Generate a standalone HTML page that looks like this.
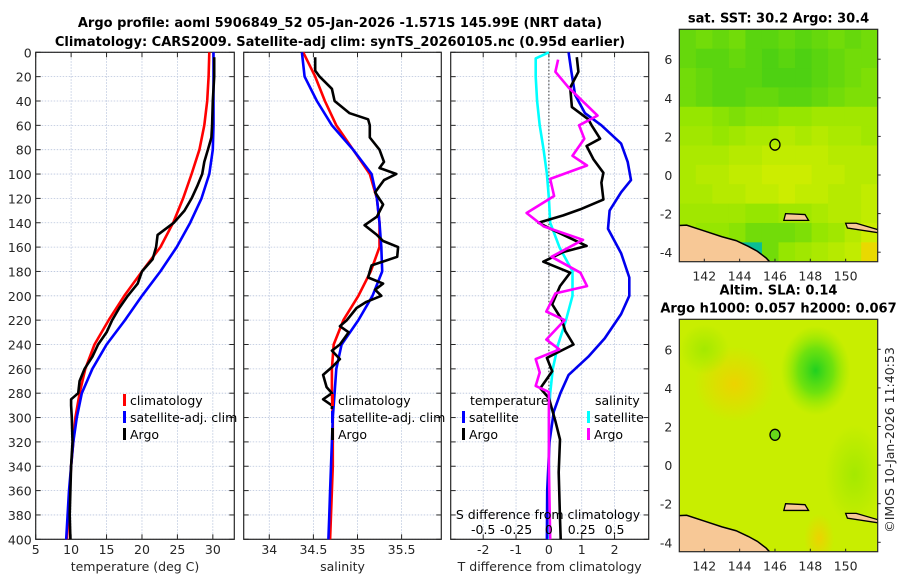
<!DOCTYPE html>
<html><head><meta charset="utf-8">
<style>
body{margin:0;background:#fff;}
svg{display:block;font-family:"DejaVu Sans","Liberation Sans",sans-serif;}
.tk{font-size:12.5px;fill:#262626;}
.ttl{font-size:13px;font-weight:bold;fill:#000;}
.lg{font-size:12.5px;fill:#000;}
</style></head>
<body>
<svg id="svg" width="900" height="580" viewBox="0 0 900 580">
<rect width="900" height="580" fill="#fff"/>
<g id="g1"></g>
<g id="g2"></g>
<g id="g3"></g>
<g id="m1"></g>
<g id="m2"></g>
<text class="ttl" x="340" y="27" text-anchor="middle">Argo profile: aoml 5906849_52 05-Jan-2026 -1.571S 145.99E (NRT data)</text>
<text class="ttl" x="340" y="46" text-anchor="middle">Climatology: CARS2009. Satellite-adj clim: synTS_20260105.nc (0.95d earlier)</text>
<text class="tk" transform="translate(894,440) rotate(-90)" text-anchor="middle">©IMOS 10-Jan-2026 11:40:53</text>
</svg>
<script>
// ---- data ----
const depthTicks=[0,20,40,60,80,100,120,140,160,180,200,220,240,260,280,300,320,340,360,380,400];
const tempTicks=[5,10,15,20,25,30];
const salTicks=[34,34.5,35,35.5];
const tdTicks=[-2,-1,0,1,2];
const sdTicks=[-0.5,-0.25,0,0.25,0.5];
const stdDepths=[0,20,40,60,80,100,120,140,160,180,200,220,240,260,280,300,320,340,360,380,400];
const tempClim=[29.5,29.4,29.2,28.8,28.1,27.0,25.8,24.4,22.6,20.0,17.5,15.3,13.3,12.0,11.2,10.6,10.3,10.0,9.8,9.6,9.4];
const tempSat=[30.1,30.1,30.1,30.1,30.0,29.5,28.4,26.8,24.9,22.6,20.0,17.6,15.0,13.0,11.5,10.8,10.3,10.0,9.7,9.5,9.3];
const salClim=[34.385,34.52,34.63,34.76,34.95,35.14,35.22,35.25,35.25,35.15,35.01,34.84,34.73,34.71,34.71,34.72,34.72,34.72,34.71,34.70,34.69];
const salSat=[34.37,34.40,34.54,34.71,34.95,35.16,35.22,35.25,35.27,35.28,35.17,35.01,34.82,34.76,34.74,34.72,34.71,34.70,34.69,34.68,34.67];
const argoTDepth=[4,20,40,60,70,80,90,100,110,120,130,140,150,160,170,180,190,200,210,220,230,240,250,260,270,280,285,290,300,320,340,360,380,400];
const argoTemp=[30.2,30.2,30.0,29.9,29.8,29.3,28.8,28.5,27.8,27.0,26.0,24.5,22.2,22.0,21.5,20.0,19.4,18.0,16.8,15.8,15.0,13.8,13.0,11.9,11.2,11.0,10.0,10.0,10.1,10.2,10.0,9.9,9.8,9.9];
const argoSDepth=[4,15,20,30,40,50,55,60,70,80,90,95,100,105,115,125,135,142,150,155,160,168,175,180,185,190,195,200,205,210,220,225,230,240,245,252,258,265,275,280,285,290,293];
const argoSal=[34.52,34.52,34.57,34.71,34.74,34.91,35.12,35.14,35.14,35.25,35.30,35.25,35.44,35.30,35.20,35.29,35.22,35.08,35.22,35.29,35.46,35.45,35.16,35.14,35.12,35.29,35.20,35.27,35.10,34.99,34.88,34.80,34.90,34.80,34.71,34.80,34.72,34.61,34.65,34.71,34.61,34.71,34.71];
const satTdDepth=[0,15,35,50,60,75,90,105,115,130,145,165,185,200,215,235,250,265,280,295,320,360,400];
const satTd=[0.6,0.68,0.8,1.1,1.6,2.2,2.4,2.5,2.2,1.85,1.8,2.2,2.45,2.45,2.2,1.7,1.2,0.6,0.35,0.15,0.02,-0.05,-0.06];
const argoTdDepth=[4,16,29,45,55,60,71,77,88,99,107,121,129,134,140,145,159,164,172,181,192,207,220,229,240,251,262,276,284,303,318,345,383,400];
const argoTd=[0.85,0.9,0.65,0.7,1.2,1.3,1.56,1.15,1.36,1.66,1.6,1.66,0.95,0.44,-0.32,0.05,1.15,0.44,-0.17,0.65,0.34,0.1,0.4,0.5,0.75,-0.06,0.1,-0.26,0.0,0.2,0.34,0.3,0.34,0.36];
const satSdDepth=[0,5,20,40,60,80,100,120,140,160,180,200,220,240,260,280,300,400];
const satSd=[0,-0.1,-0.1,-0.09,-0.07,-0.04,-0.015,0,0.01,0.08,0.18,0.18,0.13,0.07,0.03,0.01,0,0];
const argoSdDepth=[6,16,29,52,60,71,85,93,104,118,132,143,154,168,181,192,198,213,220,236,244,252,263,274,279,300,340,400];
const argoSd=[0.07,0.05,0.15,0.37,0.23,0.27,0.18,0.29,0.01,0.04,-0.17,-0.04,0.26,0.02,0.24,0.29,0.05,-0.02,0.12,-0.02,0.08,-0.1,-0.07,-0.1,0.0,0.0,0.0,0.01];
const mapLonTicks=[142,144,146,148,150];
const mapLatTicks=[-4,-2,0,2,4,6];
const sstGrid=[
[0.3,0.35,0.3,0.35,0.25,0.25,0.3,0.25,0.3,0.35,0.3,0.35],
[0.3,0.25,0.25,0.3,0.25,0.2,0.25,0.2,0.25,0.3,0.35,0.35],
[0.35,0.3,0.25,0.25,0.25,0.2,0.2,0.2,0.25,0.3,0.35,0.4],
[0.35,0.3,0.25,0.25,0.3,0.3,0.25,0.25,0.3,0.35,0.4,0.4],
[0.5,0.5,0.45,0.4,0.45,0.45,0.5,0.5,0.55,0.55,0.55,0.55],
[0.55,0.55,0.5,0.55,0.6,0.6,0.65,0.6,0.65,0.6,0.6,0.55],
[0.6,0.6,0.6,0.65,0.65,0.7,0.7,0.7,0.7,0.65,0.65,0.65],
[0.6,0.65,0.65,0.7,0.7,0.75,0.75,0.75,0.7,0.7,0.65,0.65],
[0.6,0.6,0.65,0.65,0.7,0.7,0.75,0.7,0.7,0.65,0.65,0.7],
[0.55,0.55,0.55,0.55,0.5,0.5,0.55,0.55,0.6,0.65,0.65,0.7],
[0.55,0.5,0.5,0.45,0.35,0.35,0.35,0.4,0.5,0.55,0.65,0.75],
[0.55,0.5,0.25,-0.2,-0.2,0.35,0.5,0.55,0.6,0.65,0.7,0.9]];
const argoLon=146.0, argoLat=1.57;

// ---- helpers ----
const NS="http://www.w3.org/2000/svg";
function mk(parent,tag,attrs){const e=document.createElementNS(NS,tag);for(const k in attrs)e.setAttribute(k,attrs[k]);parent.appendChild(e);return e;}
const top0=52.3, bot0=539.3;
const yD=d=>top0+(d-0)*(bot0-top0)/400;

function panel(g,x0,x1,vmin,vmax,ticks,fmt,name,showY){
  const xs=v=>x0+(v-vmin)*(x1-x0)/(vmax-vmin);
  depthTicks.forEach(d=>{const l=mk(g,'line',{x1:x0,x2:x1,y1:yD(d),y2:yD(d),stroke:'#b8c4dc','stroke-width':0.8,'stroke-dasharray':'1.5,1.5'});
    
    const t1=mk(g,'line',{x1:x0,x2:x0+5,y1:yD(d),y2:yD(d),stroke:'#262626'});
    const t2=mk(g,'line',{x1:x1-5,x2:x1,y1:yD(d),y2:yD(d),stroke:'#262626'});
    if(showY){const t=mk(g,'text',{x:x0-4,y:yD(d)+5,'text-anchor':'end',class:'tk'});t.textContent=d;}
  });
  ticks.forEach(v=>{const X=xs(v);
    const l=mk(g,'line',{x1:X,x2:X,y1:top0,y2:bot0,stroke:'#b8c4dc','stroke-width':0.8,'stroke-dasharray':'1.5,1.5'});
    const a=mk(g,'line',{x1:X,x2:X,y1:bot0-5,y2:bot0,stroke:'#262626'});
    const b=mk(g,'line',{x1:X,x2:X,y1:top0,y2:top0+5,stroke:'#262626'});
    const t=mk(g,'text',{x:X,y:554,'text-anchor':'middle',class:'tk'});t.textContent=fmt(v);
  });
  const r=mk(g,'rect',{x:x0,y:top0,width:x1-x0,height:bot0-top0,fill:'none',stroke:'#262626','stroke-width':1.2});
  
  const xl=mk(g,'text',{x:(x0+x1)/2,y:571,'text-anchor':'middle',class:'tk'});xl.textContent=name;
  
  return xs;
}
function line(g,xs,vals,depths,color,name){
  const pts=vals.map((v,i)=>xs(v).toFixed(1)+','+yD(depths[i]).toFixed(1)).join(' ');
  const p=mk(g,'polyline',{points:pts,fill:'none',stroke:color,'stroke-width':2.6,'stroke-linejoin':'round'});
  
}
function legend(g,x,y,color,label,name){
  const m=mk(g,'rect',{x:x,y:y-11,width:3,height:12,fill:color});
  const t=mk(g,'text',{x:x+7,y:y,class:'lg'});t.textContent=label;
}

// panel 1
const g1=document.getElementById('g1');
const xt=panel(g1,35.7,234.3,5,33.03,tempTicks,v=>v,'temperature (deg C)',true);
line(g1,xt,tempClim,stdDepths,'#ff0000','temp-climatology-line');
line(g1,xt,tempSat,stdDepths,'#0000ff','temp-satellite-line');
line(g1,xt,argoTemp,argoTDepth,'#000000','temp-argo-line');
legend(g1,123,405,'#ff0000','climatology','legend-climatology');
legend(g1,123,422,'#0000ff','satellite-adj. clim','legend-satellite-adj');
legend(g1,123,439,'#000000','Argo','legend-argo');

// panel 2
const g2=document.getElementById('g2');
const xsal=panel(g2,243.7,441.3,33.71,35.95,salTicks,v=>v,'salinity',false);
line(g2,xsal,salClim,stdDepths,'#ff0000','sal-climatology-line');
line(g2,xsal,salSat,stdDepths,'#0000ff','sal-satellite-line');
line(g2,xsal,argoSal,argoSDepth,'#000000','sal-argo-line');
legend(g2,331,405,'#ff0000','climatology','legend-climatology');
legend(g2,331,422,'#0000ff','satellite-adj. clim','legend-satellite-adj');
legend(g2,331,439,'#000000','Argo','legend-argo');

// panel 3
const g3=document.getElementById('g3');
const bg3=mk(g3,'rect',{x:450.7,y:top0,width:198,height:bot0-top0,fill:'#fff'});

const xtd=panel(g3,450.7,648.7,-2.99,3.04,tdTicks,v=>v,'T difference from climatology',false);
const xsd=v=>xtd(v*4);
const z=mk(g3,'line',{x1:xtd(0),x2:xtd(0),y1:top0,y2:bot0,stroke:'#333','stroke-width':1,'stroke-dasharray':'1.5,2'});

line(g3,xsd,satSd,satSdDepth,'#00ffff','sal-diff-satellite-line');
line(g3,xtd,satTd,satTdDepth,'#0000ee','temp-diff-satellite-line');
line(g3,xtd,argoTd,argoTdDepth,'#000000','temp-diff-argo-line');
line(g3,xsd,argoSd,argoSdDepth,'#ff00ff','sal-diff-argo-line');
{const t=mk(g3,'text',{x:470,y:405,class:'lg'});t.textContent='temperature';}
{const t=mk(g3,'text',{x:595,y:405,class:'lg'});t.textContent='salinity';}
legend(g3,462,422,'#0000ff','satellite','legend-temp-satellite');
legend(g3,462,439,'#000000','Argo','legend-temp-argo');
legend(g3,587,422,'#00ffff','satellite','legend-sal-satellite');
legend(g3,587,439,'#ff00ff','Argo','legend-sal-argo');
{const t=mk(g3,'text',{x:548,y:519,class:'lg','text-anchor':'middle'});t.textContent='S difference from climatology';}
sdTicks.forEach(v=>{const t=mk(g3,'text',{x:xsd(v),y:534,class:'lg','text-anchor':'middle'});t.textContent=v;
  });

// ---- maps ----
function sstColor(v){
  if(v<0) return 'rgb(10,190,150)';
  const stops=[[0,[30,195,30]],[0.5,[150,230,0]],[0.85,[225,240,0]],[1,[250,170,0]]];
  for(let i=1;i<stops.length;i++){if(v<=stops[i][0]){const a=stops[i-1],b=stops[i];const f=(v-a[0])/(b[0]-a[0]);
    return 'rgb('+a[1].map((c,j)=>Math.round(c+(b[1][j]-c)*f)).join(',')+')';}}
  return 'rgb(250,170,0)';
}
function map(id,y0,y1,lat0,drawBg,title){
  const g=document.getElementById(id);
  const x0=679.3,x1=877.7;
  const lx=lon=>704.3+(lon-142)*17.67;
  const ly=lat=>lat0-lat*19.3;
  const cp=mk(g,'clipPath',{id:id+'c'});mk(cp,'rect',{x:x0,y:y0,width:x1-x0,height:y1-y0});
  const inner=mk(g,'g',{'clip-path':'url(#'+id+'c)'});
  drawBg(inner,lx,ly,x0,x1,y0,y1);
  const land=[[140.5,-2.62],[141,-2.6],[142,-2.9],[143,-3.2],[143.8,-3.4],[144.5,-3.7],[145,-3.95],[145.5,-4.3],[145.8,-4.6],[140.5,-4.6]];
  const lp=mk(inner,'polygon',{points:land.map(p=>lx(p[0])+','+ly(p[1])).join(' '),fill:'#f7c896',stroke:'#000','stroke-width':1.5});
  
  const isl1=[[146.6,-2.0],[147.7,-2.05],[147.9,-2.35],[146.5,-2.35]];
  const i1=mk(inner,'polygon',{points:isl1.map(p=>lx(p[0])+','+ly(p[1])).join(' '),fill:'#f7c896',stroke:'#000','stroke-width':1.3});
  
  const isl2=[[150.0,-2.5],[150.6,-2.5],[151.9,-2.85],[151.9,-3.0],[150.1,-2.75]];
  const i2=mk(inner,'polygon',{points:isl2.map(p=>lx(p[0])+','+ly(p[1])).join(' '),fill:'#f7c896',stroke:'#000','stroke-width':1.3});
  
  const c=mk(g,'ellipse',{cx:lx(argoLon),cy:ly(argoLat),rx:5,ry:5.5,fill:id==='m2'?'#66d81a':'none',stroke:'#000','stroke-width':1.3});
  
  const fr=mk(g,'rect',{x:x0,y:y0,width:x1-x0,height:y1-y0,fill:'none',stroke:'#262626','stroke-width':1.2});
  
  mapLonTicks.forEach(v=>{const t=mk(g,'text',{x:lx(v),y:y1+19,class:'tk','text-anchor':'middle'});t.textContent=v;
    
    mk(g,'line',{x1:lx(v),x2:lx(v),y1:y1-3,y2:y1,stroke:'#262626'});});
  mapLatTicks.forEach(v=>{const t=mk(g,'text',{x:x0-7,y:ly(v)+5,class:'tk','text-anchor':'end'});t.textContent=v;
    
    mk(g,'line',{x1:x1,x2:x1+3,y1:ly(v),y2:ly(v),stroke:'#262626'});});
  title.forEach((s,i)=>{const t=mk(g,'text',{x:(x0+x1)/2,y:y0-7-(title.length-1-i)*18,class:'ttl','text-anchor':'middle'});t.textContent=s;
    });
}
map('m1',29.3,261.7,175,(g,lx,ly,x0,x1,y0,y1)=>{
  sstGrid.forEach((row,r)=>row.forEach((v,c)=>{
    const cell=mk(g,'rect',{x:x0+c*(x1-x0)/12,y:y0+r*(y1-y0)/12,width:(x1-x0)/12+0.5,height:(y1-y0)/12+0.5,fill:sstColor(v)});
    
  }));
},['sat. SST: 30.2 Argo: 30.4']);
map('m2',319.3,551.7,465.1,(g,lx,ly,x0,x1,y0,y1)=>{
  const defs=mk(g,'defs',{});
  const r1=mk(defs,'radialGradient',{id:'gO'});mk(r1,'stop',{offset:'0','stop-color':'#f0d000','stop-opacity':0.9});mk(r1,'stop',{offset:'1','stop-color':'#f0d000','stop-opacity':0});
  const r2=mk(defs,'radialGradient',{id:'gG'});mk(r2,'stop',{offset:'0','stop-color':'#20d020'});mk(r2,'stop',{offset:'0.5','stop-color':'#60e010','stop-opacity':0.85});mk(r2,'stop',{offset:'1','stop-color':'#90e800','stop-opacity':0});
  const r3=mk(defs,'radialGradient',{id:'gL'});mk(r3,'stop',{offset:'0','stop-color':'#a0e800','stop-opacity':0.9});mk(r3,'stop',{offset:'1','stop-color':'#a0e800','stop-opacity':0});
  const b=mk(g,'rect',{x:x0,y:y0,width:x1-x0,height:y1-y0,fill:'#c8ee00'});
  [[143.7,4.2,40,38,'gO'],[148.3,4.9,35,45,'gG'],[142,6,25,25,'gL'],[150.5,-0.5,30,50,'gL'],[148.5,-3.8,15,25,'gO']].forEach(a=>{
    const e=mk(g,'ellipse',{cx:lx(a[0]),cy:ly(a[1]),rx:a[2],ry:a[3],fill:'url(#'+a[4]+')'});
    });
},['Altim. SLA: 0.14','Argo h1000: 0.057 h2000: 0.067']);
</script>
</body></html>
